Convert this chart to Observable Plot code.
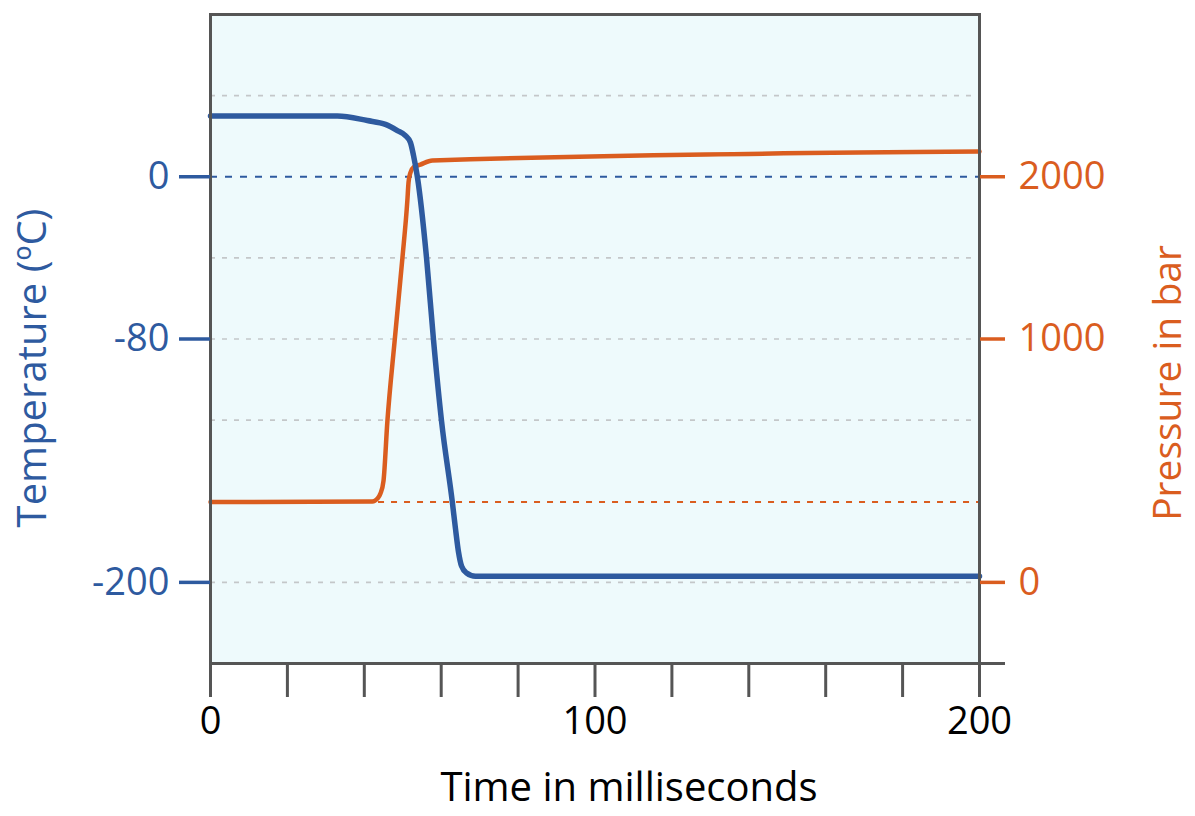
<!DOCTYPE html>
<html>
<head>
<meta charset="utf-8">
<script src="https://cdn.jsdelivr.net/npm/d3@7"></script>
<script src="https://cdn.jsdelivr.net/npm/@observablehq/plot@0.6"></script>
<style>
  html, body { margin: 0; padding: 0; background: #ffffff; }
  #chart { width: 1195px; height: 816px; }
</style>
</head>
<body>
<div id="chart"></div>
<script>
// Temperature curve (°C) vs time (ms)
const tempTime   = [0, 33, 40.8, 45.5, 48.6, 50.7, 52, 52.8, 53.8, 56.2, 58, 60.1, 62.9, 63.7, 64.5, 65.3, 66.6, 68.9, 200];
const tempValues = [30, 30, 27.7, 25.8, 22.8, 20.3, 16.9, 10.5, 0, -40.3, -80.5, -120.7, -160.5, -173.3, -185, -192, -195.4, -197, -197];

// Pressure curve (bar) vs time (ms)
const pressTime   = [0, 42.1, 43.4, 44.2, 45, 46, 47.9, 49.9, 51.2, 51.5, 52, 52.8, 54.6, 57.7, 200];
const pressValues = [330, 332, 344, 365, 418, 661, 994, 1496, 1854, 1965, 2026, 2058, 2075, 2100, 2155];

// Reference levels
const pressBaseline = [{p: 330, start: 43.7, end: 200}];
const tempGrid = [40, -40, -80, -120, -200];

// Axis ticks
const timeTicks = [0, 20, 40, 60, 80, 100, 120, 140, 160, 180, 200];
const timeLabels = [0, 100, 200];
const tempTicks = [0, -80, -200];
const pressTicks = [0, 1000, 2000];

const BLUE = "#2e5a9f";
const ORANGE = "#da5d1f";
const GRAY = "#555555";

// Right (pressure) axis is aligned with the temperature ticks: 0 bar ↔ -200, 1000 ↔ -80, 2000 ↔ 0
const pToT = d3.scaleLinear().domain(pressTicks).range(tempTicks.slice().reverse());

const tempData = tempTime.map((t, i) => ({t, v: tempValues[i]}));
const pressData = pressTime.map((t, i) => ({t, v: pToT(pressValues[i])}));

const chart = Plot.plot({
  width: 1195,
  height: 816,
  marginLeft: 210,
  marginRight: 216,
  marginTop: 14,
  marginBottom: 153,
  style: {fontFamily: "'Open Sans', sans-serif", fontWeight: 500, background: "#ffffff", overflow: "visible"},
  x: {domain: [0, 200]},
  y: {domain: [-240, 80]},
  marks: [
    Plot.frame({fill: "#eefafc"}),
    Plot.ruleY(tempGrid, {stroke: "#c4c7c9", strokeWidth: 1.6, strokeDasharray: "5,7"}),
    Plot.ruleY([0], {stroke: BLUE, strokeWidth: 2, strokeDasharray: "7,8"}),
    Plot.ruleY(pressBaseline, {y: d => pToT(d.p), x1: "start", x2: "end", stroke: ORANGE, strokeWidth: 2, strokeDasharray: "6,7"}),
    Plot.line(pressData, {x: "t", y: "v", stroke: ORANGE, strokeWidth: 4.5, curve: "monotone-x"}),
    Plot.line(tempData, {x: "t", y: "v", stroke: BLUE, strokeWidth: 5.5, curve: "monotone-x"}),
    Plot.frame({stroke: GRAY, strokeWidth: 3}),
    Plot.axisX({ticks: timeTicks, tickSize: 34, tickPadding: 10, strokeWidth: 3, stroke: GRAY, fill: "#000",
      fontSize: 38, tickFormat: d => timeLabels.includes(d) ? String(d) : "", label: null}),
    Plot.axisY({anchor: "left", ticks: tempTicks, tickSize: 31, tickPadding: 10, strokeWidth: 3.5, color: BLUE,
      fontSize: 38, tickFormat: d => String(d), label: null}),
    Plot.axisY({anchor: "right", ticks: tempTicks, tickSize: 25, tickPadding: 14, strokeWidth: 3.5, color: ORANGE,
      fontSize: 38, tickFormat: d => String(Math.round(pToT.invert(d))), label: null}),
    Plot.axisY({anchor: "right", ticks: [-240], tickSize: 25, strokeWidth: 3, stroke: GRAY, tickFormat: () => "", label: null}),
    Plot.text(["Temperature (ºC)"], {frameAnchor: "left", textAnchor: "middle", rotate: -90, dx: -177, dy: 29, fontSize: 40, fill: BLUE}),
    Plot.text(["Pressure in bar"], {frameAnchor: "right", textAnchor: "middle", rotate: -90, dx: 189, dy: 44, fontSize: 39, fill: ORANGE}),
    Plot.text(["Time in milliseconds"], {frameAnchor: "bottom", dx: 34, dy: 137, fontSize: 40, fill: "#000"})
  ]
});
document.getElementById("chart").appendChild(chart);
</script>
</body>
</html>
